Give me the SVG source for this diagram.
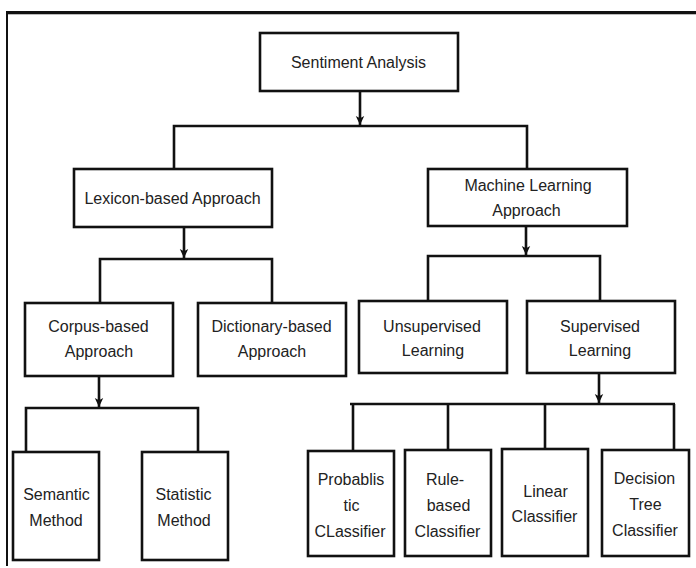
<svg xmlns="http://www.w3.org/2000/svg" width="696" height="568" viewBox="0 0 696 568">
<defs>
<marker id="arr" markerUnits="userSpaceOnUse" markerWidth="10" markerHeight="10" refX="9" refY="5" orient="auto">
<path d="M0,0.8 L9,5 L0,9.2 L2.2,5 Z" fill="#111"/>
</marker>
<style>
.box{fill:#fff;stroke:#111;stroke-width:2.6}
.t{font-family:"Liberation Sans",Arial,sans-serif;font-size:16px;fill:#222;text-anchor:middle}
.c{fill:none;stroke:#111;stroke-width:2.6}
.frame{stroke:#111;fill:none}
</style>
</defs>
<rect width="696" height="568" fill="#fff"/>
<g id="frame">
<line class="frame" x1="6" y1="12.5" x2="696" y2="12.5" stroke-width="3"/>
<line x1="6" y1="14.5" x2="696" y2="14.5" stroke="#bbb" stroke-width="1"/>
<line class="frame" x1="7" y1="11" x2="7" y2="566" stroke-width="2"/>
</g>
<g id="connectors">
<path class="c" d="M360,91 V125" marker-end="url(#arr)"/>
<path class="c" d="M174,169 V126 H527 V169"/>
<path class="c" d="M184,227 V258" marker-end="url(#arr)"/>
<path class="c" d="M100,303 V259 H272 V303"/>
<path class="c" d="M526,226 V255" marker-end="url(#arr)"/>
<path class="c" d="M428,301 V256 H600 V301"/>
<path class="c" d="M99,376 V407" marker-end="url(#arr)"/>
<path class="c" d="M26,452 V408 H198 V452"/>
<path class="c" d="M599,373 V403" marker-end="url(#arr)"/>
<path class="c" d="M350,404 H675"/>
<path class="c" d="M353,404 V451 M448,404 V450 M545,404 V449 M674,404 V450"/>
</g>
<g id="sentiment"><rect class="box" x="260" y="33" width="198" height="58"/><text class="t" x="358.5" y="68">Sentiment Analysis</text></g>
<g id="lexicon"><rect class="box" x="74" y="169" width="198" height="58"/><text class="t" x="172.5" y="204">Lexicon-based Approach</text></g>
<g id="ml"><rect class="box" x="428" y="169" width="199" height="57"/><text class="t" x="528" y="191">Machine Learning</text><text class="t" x="526.5" y="216">Approach</text></g>
<g id="corpus"><rect class="box" x="25" y="303" width="148" height="73"/><text class="t" x="98.5" y="332">Corpus-based</text><text class="t" x="99" y="357">Approach</text></g>
<g id="dictionary"><rect class="box" x="198" y="303" width="148" height="73"/><text class="t" x="271.5" y="332">Dictionary-based</text><text class="t" x="272" y="357">Approach</text></g>
<g id="unsupervised"><rect class="box" x="359" y="301" width="148" height="72"/><text class="t" x="432" y="332">Unsupervised</text><text class="t" x="433" y="356">Learning</text></g>
<g id="supervised"><rect class="box" x="527" y="301" width="148" height="72"/><text class="t" x="600" y="332">Supervised</text><text class="t" x="600" y="356">Learning</text></g>
<g id="semantic"><rect class="box" x="13" y="452" width="86" height="108"/><text class="t" x="56.5" y="500">Semantic</text><text class="t" x="56" y="526">Method</text></g>
<g id="statistic"><rect class="box" x="142" y="452" width="86" height="108"/><text class="t" x="183.5" y="500">Statistic</text><text class="t" x="184" y="526">Method</text></g>
<g id="probabilistic"><rect class="box" x="308" y="451" width="86" height="105"/><text class="t" x="351" y="485">Probablis</text><text class="t" x="351.5" y="511">tic</text><text class="t" x="350" y="537">CLassifier</text></g>
<g id="rulebased"><rect class="box" x="405" y="450" width="86" height="106"/><text class="t" x="445" y="485">Rule-</text><text class="t" x="448.5" y="511">based</text><text class="t" x="447.5" y="537">Classifier</text></g>
<g id="linear"><rect class="box" x="502" y="449" width="86" height="107"/><text class="t" x="545.5" y="497">Linear</text><text class="t" x="544.5" y="522">Classifier</text></g>
<g id="decision"><rect class="box" x="602" y="450" width="87" height="106"/><text class="t" x="644.5" y="484">Decision</text><text class="t" x="645.5" y="510">Tree</text><text class="t" x="645" y="536">Classifier</text></g>
</svg>
